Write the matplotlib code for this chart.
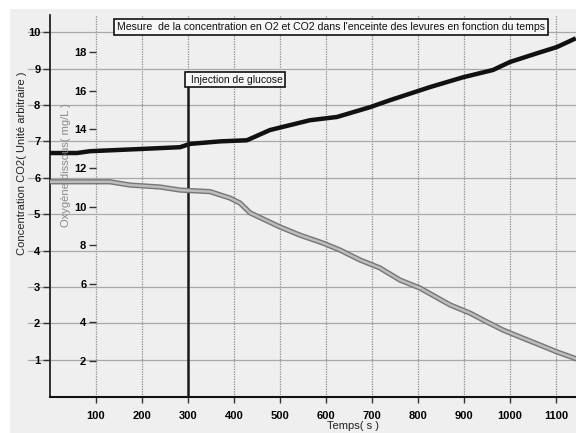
import matplotlib
matplotlib.use("Agg")
import matplotlib.pyplot as plt
import matplotlib.patheffects as pe
from matplotlib.patches import Rectangle

# ---- data ----
time_co2 = [0, 59, 87, 196, 283, 304, 370, 428, 478, 565, 624, 696, 739, 826, 898, 963, 1000, 1059, 1102, 1143]
co2 = [6.68, 6.68, 6.73, 6.79, 6.84, 6.93, 7.00, 7.03, 7.31, 7.58, 7.67, 7.94, 8.13, 8.49, 8.76, 8.96, 9.18, 9.42, 9.59, 9.83]

time_o2 = [0, 130, 174, 239, 283, 348, 370, 391, 413, 435, 500, 543, 593, 630, 674, 717, 761, 804, 870, 913, 950, 985, 1022, 1065, 1102, 1143]
o2 = [11.28, 11.28, 11.11, 11.01, 10.85, 10.77, 10.60, 10.44, 10.18, 9.67, 8.94, 8.52, 8.11, 7.75, 7.23, 6.82, 6.19, 5.78, 4.90, 4.48, 4.02, 3.60, 3.24, 2.83, 2.47, 2.12]

x_ticks = [100, 200, 300, 400, 500, 600, 700, 800, 900, 1000, 1100]
co2_ticks = [1, 2, 3, 4, 5, 6, 7, 8, 9, 10]
o2_ticks = [2, 4, 6, 8, 10, 12, 14, 16, 18]
injection_time = 300

title_text = "Mesure  de la concentration en O2 et CO2 dans l'enceinte des levures en fonction du temps"
injection_text = "Injection de glucose"
xlabel_text = "Temps( s )"
ylabel_text = "Concentration CO2( Unité arbitraire )"
y2label_text = "Oxygène dissous( mg/L )"

W, H = 576, 433
BG = "#efefef"
fig = plt.figure(figsize=(W / 100, H / 100), dpi=100)
fig.patch.set_facecolor("white")
fig.add_artist(Rectangle((10 / W, 0), 1, (H - 9) / H, transform=fig.transFigure,
                         facecolor=BG, edgecolor="none", zorder=-10))

left_px, right_px, top_px, bottom_px = 50, 576, 15, 397
ax = fig.add_axes([left_px / W, (H - bottom_px) / H, (right_px - left_px) / W, (bottom_px - top_px) / H])
ax.set_facecolor(BG)
ax.patch.set_alpha(0)

x_max = (right_px - left_px) / 0.46
ax.set_xlim(0, x_max)
ax.set_ylim(-0.02, 10.47)

tick_font = dict(family=["Liberation Sans", "DejaVu Sans"], size=8, weight="bold")
box_font = ["Liberation Sans Narrow", "Liberation Sans", "DejaVu Sans"]

ax.set_xticks(x_ticks)
ax.set_xticklabels([str(t) for t in x_ticks], **tick_font)
ax.set_yticks(co2_ticks)
ax.set_yticklabels([str(t) for t in co2_ticks], **tick_font)
ax.tick_params(axis="x", length=4, width=1, pad=6, color="#333333")
ax.tick_params(axis="y", length=5, width=1, pad=2, color="#333333")

for s in ["top", "right"]:
    ax.spines[s].set_visible(False)
ax.spines["left"].set_color("#222222")
ax.spines["left"].set_linewidth(1.3)
ax.spines["bottom"].set_color("#111111")
ax.spines["bottom"].set_linewidth(1.5)

# grid
for xv in x_ticks:
    ax.axvline(xv, color="#8c8c8c", lw=0.9, ls=(0, (1, 1)), zorder=1)
for yv in co2_ticks:
    ax.axhline(yv, xmin=-0.042, xmax=1, color="#a8a8a8", lw=0.9, zorder=1, clip_on=False)

# oxygen axis (inner)
ax2 = ax.twinx()
ax2.set_ylim((399.6 - bottom_px) / 19.31, (399.6 - top_px) / 19.31)
ax2.yaxis.tick_left()
ax2.yaxis.set_label_position("left")
ax2.spines["left"].set_position(("axes", 46 / (right_px - left_px)))
for s in ["top", "right", "bottom", "left"]:
    ax2.spines[s].set_visible(False)
ax2.set_yticks(o2_ticks)
ax2.set_yticklabels([str(t) for t in o2_ticks], **tick_font)
ax2.tick_params(axis="y", length=5, width=1, pad=2, color="#333333")
ax2.patch.set_alpha(0)

# data lines
ax.plot(time_co2, co2, color="#111111", lw=3.2, solid_capstyle="butt", zorder=5)
ax2.plot(time_o2, o2, color="#bdbdbd", lw=1.8, zorder=5,
         path_effects=[pe.Stroke(linewidth=3.8, foreground="#767676"), pe.Normal()])

# injection line
ax.plot([injection_time, injection_time], [-0.02, (396.4 - 72) / 36.44], color="#1a1a1a", lw=1.8, zorder=6)
ax.text(injection_time, (396.4 - 79.5) / 36.44, " " + injection_text, ha="left", va="center",
        fontsize=7.5, family=box_font, color="#111111", zorder=7,
        bbox=dict(boxstyle="square,pad=0.25", facecolor="#f7f7f7", edgecolor="#111111", lw=1.2))

# title box
fig.text(331 / W, (H - 27) / H, title_text, ha="center", va="center", fontsize=7.6,
         family=box_font, color="#111111", zorder=10,
         bbox=dict(boxstyle="square,pad=0.25", facecolor="#f7f7f7", edgecolor="#111111", lw=1.2))

# axis labels
fig.text(22 / W, (H - 163) / H, ylabel_text, rotation=90, ha="center", va="center",
         fontsize=8, family=["Liberation Sans", "DejaVu Sans"], color="#222222")
fig.text(66 / W, (H - 165) / H, y2label_text, rotation=90, ha="center", va="center",
         fontsize=8, family=["Liberation Sans", "DejaVu Sans"], color="#8a8a8a", zorder=2)
fig.text(353 / W, (H - 426) / H, xlabel_text, ha="center", va="center",
         fontsize=8, family=["Liberation Sans", "DejaVu Sans"], color="#222222")

fig.savefig("out.png", dpi=100, facecolor=fig.get_facecolor())
